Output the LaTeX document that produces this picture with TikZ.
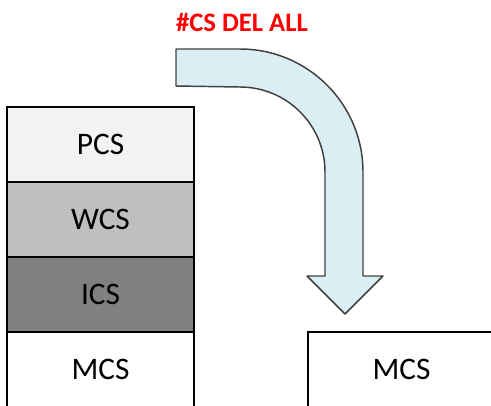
\documentclass[tikz,border=0pt]{standalone}
\usepackage{fontspec}
\setmainfont{Carlito}
\begin{document}
\begin{tikzpicture}[x=0.75pt, y=-0.75pt]
    \definecolor{borderColour}{HTML}{000000}
    \definecolor{pcsColour}{HTML}{F2F2F2}
    \definecolor{wcsColour}{HTML}{BFBFBF}
    \definecolor{icsColour}{HTML}{808080}
    \definecolor{arrowFill}{HTML}{DAEEF3}
    \definecolor{arrowBorder}{HTML}{404040}
    \definecolor{labelRed}{HTML}{FF0000}

    \tikzset{csBox/.style={draw=borderColour, line width=1.5pt, minimum width=140pt, minimum height=56.25pt, inner sep=0pt, font=\fontsize{23.5}{27}\selectfont}}

    \useasboundingbox (0,0) rectangle (491,405);
    \clip (0,0) rectangle (491,405);

    \node[csBox, fill=pcsColour] (pcs) at (100.5,144.5) {PCS};
    \node[csBox, fill=wcsColour] (wcs) at (100.5,219.5) {WCS};
    \node[csBox, fill=icsColour] (ics) at (100.5,294.5) {ICS};
    \node[csBox, fill=white] (mcsL) at (100.5,369.5) {MCS};

    \node[csBox, fill=white] (mcsR) at (401.5,369.5) {MCS};

    \filldraw[fill=arrowFill, draw=arrowBorder, line width=1.1pt, line join=round]
        (176,49) -- (240,49) arc[start angle=-90, end angle=0, radius=123]
        -- (363,276) -- (383,276) -- (345,314) -- (307,276) -- (325,276)
        -- (325,172) arc[start angle=0, end angle=-90, radius=85]
        -- (176,86) -- cycle;

    \node[text=labelRed, font=\fontsize{20}{24}\selectfont\bfseries] (cmd) at (242,22) {\#CS DEL ALL};

\end{tikzpicture}
\end{document}
